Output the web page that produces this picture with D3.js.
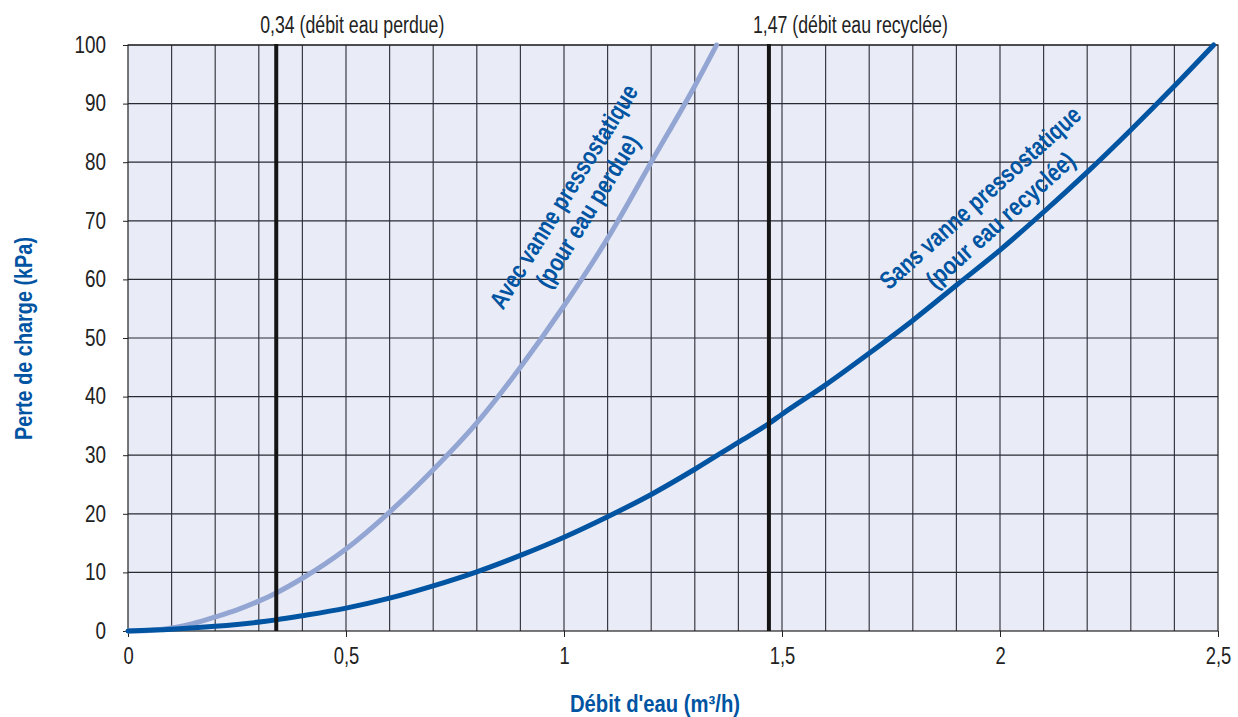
<!DOCTYPE html>
<html lang="fr">
<head>
<meta charset="UTF-8">
<title>Perte de charge</title>
<script src="https://cdn.jsdelivr.net/npm/d3@7"></script>
<style>
    body { margin: 0; background: #fff; }
    text { font-family: "Liberation Sans", Arial, sans-serif; }
    .axis text { font-size: 23px; fill: #222; }
    .axis path, .axis line { stroke: #222; }
</style>
</head>
<body>
<script>
    // curve readings (x = débit m3/h, y = kPa)
    let avecX = [0, 0.05, 0.1, 0.15, 0.2, 0.25, 0.3, 0.34, 0.4, 0.5, 0.6, 0.7, 0.8, 0.9, 1.0, 1.1, 1.2, 1.3, 1.35];
    let avecY = [0, 0.1, 0.5, 1.3, 2.4, 3.6, 5.1, 6.5, 9, 14, 20.3, 27.5, 35.5, 45, 55.5, 67, 80, 93, 100];
    let sansX = [0, 0.1, 0.2, 0.34, 0.4, 0.5, 0.6, 0.7, 0.8, 0.9, 1.0, 1.1, 1.2, 1.3, 1.4, 1.47, 1.5, 1.6, 1.7, 1.8, 1.9, 2.0, 2.1, 2.2, 2.3, 2.4, 2.49];
    let sansY = [0, 0.3, 0.8, 1.9, 2.6, 3.9, 5.6, 7.7, 10.1, 12.9, 16, 19.5, 23.3, 27.6, 32.2, 35.4, 37, 42, 47.4, 53, 59, 65, 71.5, 78.3, 85.5, 93, 100];
    let markers = [0.34, 1.47];
    let markerLabels = ["0,34 (débit eau perdue)", "1,47 (débit eau recyclée)"];
    let xTicks = [0, 0.5, 1, 1.5, 2, 2.5];
    let xTickLabels = ["0", "0,5", "1", "1,5", "2", "2,5"];
    let yTicks = [0, 10, 20, 30, 40, 50, 60, 70, 80, 90, 100];

    let width = 1238, height = 717;
    let padL = 128, padR = 1218, padT = 45, padB = 631;
    let dark = "#0054a2", light = "#93a5d3";

    let svg = d3.select("body").append("svg")
        .attr("width", width).attr("height", height);

    // squeeze text horizontally to imitate a condensed face
    function condense(sel, k) {
        sel.each(function () {
            let w = this.getComputedTextLength();
            d3.select(this).attr("textLength", w * k).attr("lengthAdjust", "spacingAndGlyphs");
        });
    }
    function fitTo(sel, len) {
        sel.attr("textLength", len).attr("lengthAdjust", "spacingAndGlyphs");
    }

    let xScale = d3.scaleLinear().domain([0, 2.5]).range([padL, padR]);
    let yScale = d3.scaleLinear().domain([0, 100]).range([padB, padT]);

    svg.append("rect")
        .attr("x", padL).attr("y", padT)
        .attr("width", padR - padL).attr("height", padB - padT)
        .attr("fill", "#e9ecf6");

    // grid
    let vgrid = d3.range(1, 25).map(d => d / 10);
    svg.append("g").selectAll("line").data(vgrid).join("line")
        .attr("x1", d => xScale(d)).attr("x2", d => xScale(d))
        .attr("y1", padT).attr("y2", padB)
        .attr("stroke", "#3a3a44").attr("stroke-width", 1.2);
    svg.append("g").selectAll("line").data(yTicks.slice(1)).join("line")
        .attr("x1", padL).attr("x2", padR)
        .attr("y1", d => yScale(d)).attr("y2", d => yScale(d))
        .attr("stroke", "#2a2a33").attr("stroke-width", 1.2);

    svg.append("rect")
        .attr("x", padL).attr("y", padT)
        .attr("width", padR - padL).attr("height", padB - padT)
        .attr("fill", "none").attr("stroke", "#222").attr("stroke-width", 1.2);

    // axes
    let xAxis = d3.axisBottom(xScale).tickValues(xTicks)
        .tickFormat((d, i) => xTickLabels[i]).tickSize(6).tickPadding(11);
    let gx = svg.append("g").attr("class", "axis")
        .attr("transform", "translate(0," + padB + ")")
        .call(xAxis)
        .call(g => g.select(".domain").remove());
    condense(gx.selectAll("text"), 0.8);

    let yAxis = d3.axisLeft(yScale).tickValues(yTicks).tickSize(5).tickPadding(17);
    let gy = svg.append("g").attr("class", "axis")
        .attr("transform", "translate(" + padL + ",0)")
        .call(yAxis)
        .call(g => g.select(".domain").remove());
    condense(gy.selectAll("text"), 0.82);

    // curves
    let line = d3.line()
        .x(d => xScale(d[0]))
        .y(d => yScale(d[1]))
        .curve(d3.curveMonotoneX);

    svg.append("path")
        .attr("d", line(avecX.map((x, i) => [x, avecY[i]])))
        .attr("fill", "none").attr("stroke", light)
        .attr("stroke-width", 5).attr("stroke-linecap", "round");

    svg.append("path")
        .attr("d", line(sansX.map((x, i) => [x, sansY[i]])))
        .attr("fill", "none").attr("stroke", dark)
        .attr("stroke-width", 5).attr("stroke-linecap", "round");

    // marker lines
    svg.append("g").selectAll("line").data(markers).join("line")
        .attr("x1", d => xScale(d)).attr("x2", d => xScale(d))
        .attr("y1", padT - 1).attr("y2", padB)
        .attr("stroke", "#151515").attr("stroke-width", 4);

    let ml = svg.append("g").selectAll("text").data(markers).join("text")
        .attr("x", d => xScale(d) - 16)
        .attr("y", 33)
        .attr("font-size", "23px")
        .attr("fill", "#222")
        .text((d, i) => markerLabels[i]);
    condense(ml, 0.77);

    // curve labels
    function curveLabel(cx, cy, angle, gap, lines, lens) {
        let t = svg.append("text")
            .attr("transform", "translate(" + cx + "," + cy + ") rotate(" + angle + ")")
            .attr("text-anchor", "middle")
            .attr("font-size", "25px")
            .attr("font-weight", "bold")
            .attr("fill", dark);
        lines.forEach((s, i) => {
            t.append("tspan").attr("x", 0).attr("dy", i === 0 ? 0 : gap).text(s)
                .call(fitTo, lens[i]);
        });
    }
    curveLabel(571, 201, -58.2, 28, ["Avec vanne pressostatique", "(pour eau perdue)"], [258, 174]);
    curveLabel(986, 204, -41.8, 30, ["Sans vanne pressostatique", "(pour eau recyclée)"], [260, 190]);

    // axis titles
    svg.append("text")
        .attr("x", 655).attr("y", 712)
        .attr("text-anchor", "middle")
        .attr("font-size", "23px").attr("font-weight", "bold")
        .attr("fill", dark)
        .text("Débit d'eau (m³/h)")
        .call(fitTo, 170);

    svg.append("text")
        .attr("transform", "translate(32,338.5) rotate(-90)")
        .attr("text-anchor", "middle")
        .attr("font-size", "23px").attr("font-weight", "bold")
        .attr("fill", dark)
        .text("Perte de charge (kPa)")
        .call(fitTo, 203);
</script>
</body>
</html>
